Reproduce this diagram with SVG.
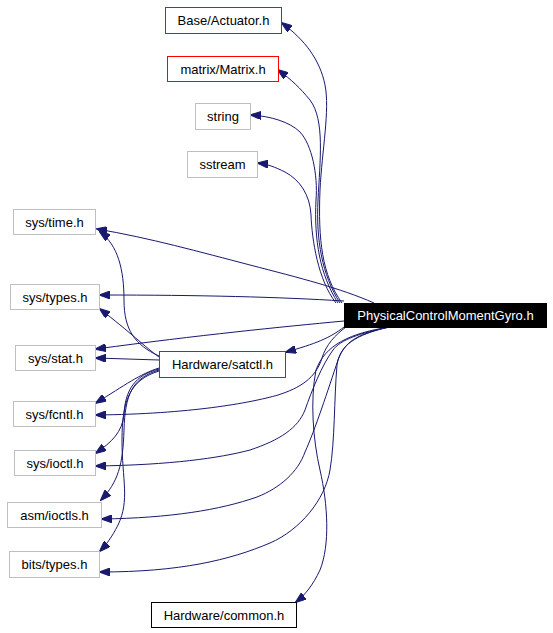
<svg xmlns="http://www.w3.org/2000/svg" width="553" height="633" viewBox="0 0 553 633">
<defs>
<marker id="ah" markerWidth="11" markerHeight="8" refX="10" refY="4" orient="auto" markerUnits="userSpaceOnUse">
<path d="M0,0 L11,4 L0,8 z" fill="#191970" stroke="#191970" stroke-width="1"/>
</marker>
<style>
.n rect{fill:#fff;stroke:#bfbfbf;stroke-width:1}
.n.r rect{stroke:#ff0000}
.n.k rect{stroke:#000}
.n text{font-family:"Liberation Sans",Arial,sans-serif;font-size:13px;fill:#000;text-anchor:middle}
.n.m rect{fill:#000;stroke:#000}
.n.m text{fill:#fff}
#edges path{fill:none;stroke:#191970;stroke-width:1;marker-end:url(#ah)}
</style>
</defs>
<rect width="553" height="633" fill="#fff"/>
<g id="edges">
<path d="M342,303 C322,275 318,240 320,190 C322,150 330,110 325,85 C320,60 305,40 282,23"/>
<path d="M340,303 C322,275 316,240 318,200 C320,160 325,120 310,100 C300,88 292,80 278,70"/>
<path d="M338,303 C320,275 314,240 316,200 C318,175 312,145 300,132 C290,122 270,116 251,115"/>
<path d="M336,303 C318,280 312,240 311,215 C310,195 300,180 285,172 C275,167 267,164 258,163"/>
<path d="M374,303 C340,288 300,278 250,265 C200,252 150,238 97,229"/>
<path d="M344,301 C280,297 200,295 100,295"/>
<path d="M344,321 C280,327 200,335 96,349"/>
<path d="M344,327 C330,338 315,344 286,352"/>
<path d="M346,327 C335,335 326,345 322,358 C316,378 300,388 278,395 C250,403 190,414 96,415"/>
<path d="M390,327 C360,333 340,340 333,350 C322,365 312,390 305,410 C298,428 280,440 250,450 C220,458 170,465 96,466"/>
<path d="M388,327 C355,335 345,342 338,360 C328,390 315,430 305,452 C298,472 280,488 257,497 C220,510 170,518 102,519"/>
<path d="M389,327 C355,335 340,345 337,365 C334,400 335,440 330,470 C325,500 300,530 270,543 C230,560 180,572 100,572"/>
<path d="M390,327 C350,333 325,345 316,370 C310,400 313,440 320,470 C328,505 330,545 320,570 C313,585 305,595 296,602"/>
<path d="M159,356 C135,345 124,330 124,300 C124,270 118,245 100,232"/>
<path d="M159,357 C145,347 130,332 100,309"/>
<path d="M159,360 L96,358"/>
<path d="M159,368 C140,374 125,385 96,403"/>
<path d="M159,369 C135,375 125,390 124,415 C122,432 112,442 96,453"/>
<path d="M159,370 C132,378 125,395 124,430 C123,465 118,482 101,500"/>
<path d="M159,371 C130,380 122,400 122,440 C122,480 130,500 118,525 C112,537 106,545 100,551"/>
</g>
<g id="n_actuator" class="n r"><rect x="165.5" y="7.5" width="116" height="26"/><text x="223.5" y="25">Base/Actuator.h</text></g>
<g id="n_matrix" class="n r"><rect x="167.5" y="56.5" width="111" height="25"/><text x="223" y="73.5">matrix/Matrix.h</text></g>
<g id="n_string" class="n"><rect x="195.5" y="103.5" width="55" height="26"/><text x="223" y="121">string</text></g>
<g id="n_sstream" class="n"><rect x="187.5" y="151.5" width="70" height="26"/><text x="222.5" y="169">sstream</text></g>
<g id="n_systime" class="n"><rect x="13.5" y="209.5" width="82" height="25"/><text x="54.5" y="226.5">sys/time.h</text></g>
<g id="n_systypes" class="n"><rect x="10.5" y="284.5" width="89" height="25"/><text x="55" y="301.5">sys/types.h</text></g>
<g id="n_sysstat" class="n"><rect x="15.5" y="345.5" width="80" height="25"/><text x="55.5" y="362.5">sys/stat.h</text></g>
<g id="n_satctl" class="n r"><rect x="159.5" y="351.5" width="126" height="26"/><text x="222.5" y="369">Hardware/satctl.h</text></g>
<g id="n_pcmg" class="n m"><rect x="344.5" y="303.5" width="202" height="24"/><text x="445.5" y="320">PhysicalControlMomentGyro.h</text></g>
<g id="n_sysfcntl" class="n"><rect x="13.5" y="401.5" width="82" height="25"/><text x="54.5" y="418.5">sys/fcntl.h</text></g>
<g id="n_sysioctl" class="n"><rect x="14.5" y="450.5" width="81" height="25"/><text x="55" y="467.5">sys/ioctl.h</text></g>
<g id="n_asmioctls" class="n"><rect x="7.5" y="502.5" width="94" height="25"/><text x="54.5" y="519.5">asm/ioctls.h</text></g>
<g id="n_bitstypes" class="n"><rect x="9.5" y="551.5" width="90" height="26"/><text x="54.5" y="569">bits/types.h</text></g>
<g id="n_common" class="n k"><rect x="151.5" y="602.5" width="145" height="25"/><text x="224" y="619.5">Hardware/common.h</text></g>
</svg>
